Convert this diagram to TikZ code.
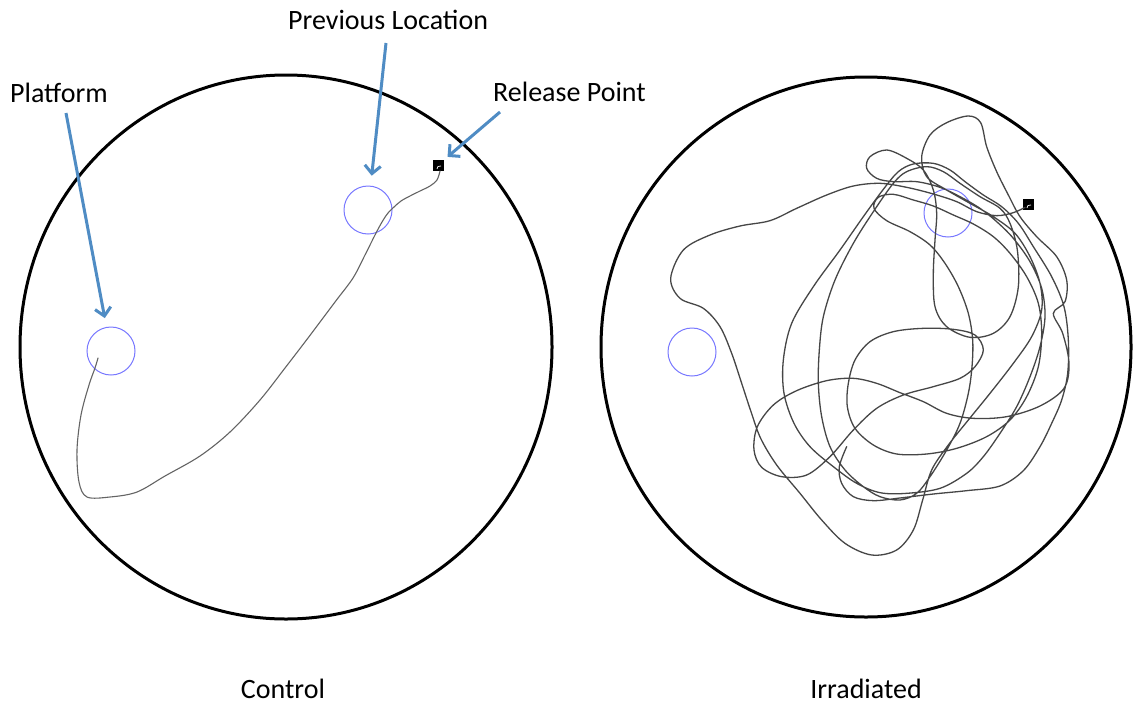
\documentclass[tikz,border=0pt]{standalone}
\usepackage{fontspec}
\setmainfont{Carlito}
\usetikzlibrary{arrows.meta}
\definecolor{callout}{RGB}{79,140,196}
\definecolor{target}{RGB}{120,120,255}
\definecolor{swim}{RGB}{70,70,70}
\definecolor{swimlight}{RGB}{100,100,100}
\begin{document}
\begin{tikzpicture}[x=1pt,y=-1pt,
  poolwall/.style={draw=black,line width=3pt},
  platformring/.style={circle,draw=target,line width=1pt,minimum size=48pt,inner sep=0pt},
  startbox/.style={rectangle,fill=black,minimum size=11pt,inner sep=0pt},
  lbl/.style={inner sep=0pt,font=\fontsize{28}{32}\selectfont},
  calloutarrow/.style={draw=callout,line width=3pt,-{Straight Barb[length=8pt,width=16pt]}},
  track/.style={draw=swim,line width=1.3pt,line join=round,line cap=round}
]
% canvas
\fill[white] (0,0) rectangle (1139,704);

% pools
\draw[poolwall] (286,347) ellipse [x radius=266pt, y radius=272pt];
\draw[poolwall] (866,347) ellipse [x radius=265pt, y radius=270pt];

% platform rings
\node[platformring] (plat1) at (111,351) {};
\node[platformring] (prev1) at (368,210) {};
\node[platformring] (plat2) at (692,352) {};
\node[platformring] (prev2) at (948,213) {};

% release markers
\node[startbox] (rel1) at (438,165) {};
\node[startbox] (rel2) at (1028,204) {};
\draw[white,line width=0.7pt] (437,169) -- (438,166.5) -- (441,166);
\draw[white,line width=0.7pt] (1027,208) -- (1028,205.5) -- (1031,205);

% labels
\node[lbl,anchor=base west] (platlbl) at (10,102) {Platform};
\node[lbl,anchor=base west] (prevlbl) at (288,29) {Previous Location};
\node[lbl,anchor=base west] (rellbl) at (493,101) {Release Point};
\node[lbl,anchor=base] (ctrllbl) at (283,698) {Control};
\node[lbl,anchor=base] (irrlbl) at (866,698) {Irradiated};

% callout arrows
\coordinate (platTail) at (66,113);
\coordinate (prevTail) at (386,43);
\coordinate (relTail) at (500,112);
\draw[calloutarrow,shorten >=9pt] (platTail) -- (plat1);
\draw[calloutarrow,shorten >=10pt] (prevTail) -- (prev1);
\draw[calloutarrow,shorten >=5pt] (relTail) -- (rel1);

% control swim path
\draw[track,draw=swimlight,line width=1.1pt] plot[smooth,tension=0.55] coordinates {
 (440,171) (437,180) (430,186) (420,191) (410,196) (401,201) (394,207)
 (388,213) (382,222) (375,235) (365,255) (353,278) (335,302) (308,338)
 (285,368) (260,400) (230,432) (200,456) (165,476) (137,492) (110,497)
 (87,497) (79,482) (77,450) (81,415) (89,385) (95,368) (98,358)};

% irradiated swim path
\begin{scope}[xshift=640pt,yshift=-100pt,x=0.33333pt,y=-0.33333pt]
\draw[track] plot[smooth,tension=0.55] coordinates {
 (1155,322) (1120,338) (1070,347) (1010,335) (950,305) (880,282) (800,262)
 (720,250) (640,258) (560,285) (470,325) (390,362) (300,378) (210,405)
 (130,450) (92,535) (120,595) (190,625) (240,680) (275,760) (305,850)
 (333,935) (362,1015) (410,1095) (480,1180) (545,1260) (615,1330)
 (695,1365) (770,1350) (820,1290) (848,1200) (875,1110) (925,1035)
 (985,960) (1050,880) (1120,790) (1175,710) (1205,630) (1200,550)
 (1170,470) (1125,400) (1060,350) (990,310) (920,270) (860,230)
 (845,170) (870,105) (920,68) (985,48) (1022,68) (1040,140) (1070,215)
 (1105,285) (1140,350) (1190,410) (1250,470) (1280,540) (1275,605)
 (1240,640)
 (1268,700) (1287,790) (1272,865) (1200,918) (1100,950) (1000,955)
 (920,940) (850,905) (780,878) (710,850) (640,835) (560,842) (470,872)
 (400,915) (352,980) (342,1050) (365,1102) (425,1130) (500,1125)
 (570,1070) (640,990) (710,925) (790,885) (880,860) (960,835) (1005,800)
 (1030,750) (1005,705) (940,688) (850,685) (760,695) (690,725) (645,780)
 (625,850) (622,920) (645,985) (700,1035) (770,1062) (860,1062)
 (950,1045) (1040,1010) (1110,960) (1160,890) (1195,800) (1205,700)
 (1195,610) (1160,530) (1110,460) (1060,410) (1000,372) (940,345)
 (880,318) (820,300) (760,283) (715,292) (702,325) (740,362) (810,395)
 (870,435) (915,490) (955,560) (985,640) (998,720) (996,800) (985,880)
 (960,970) (920,1050) (870,1130) (830,1180) (780,1200) (720,1190)
 (670,1160) (615,1110) (570,1040) (545,950) (535,850) (538,750)
 (550,650) (585,540) (640,430) (700,335) (760,250) (800,215) (860,200)
 (910,215) (960,250) (1020,290) (1080,325)
 (1110,370) (1132,450) (1135,560) (1110,650) (1060,700) (990,712)
 (920,680) (885,620) (880,520) (885,420) (890,340) (880,270) (850,210)
 (800,175) (740,150) (690,170) (680,205) (710,235) (760,245) (830,245)
 (900,262) (960,290) (1020,325) (1070,365) (1120,415) (1170,485)
 (1205,565) (1215,650) (1200,740) (1170,830) (1130,920) (1080,1000)
 (1030,1070) (980,1120) (900,1165) (800,1180) (720,1178) (650,1150)
 (580,1100) (510,1040) (462,970) (432,880) (430,780) (455,670)
 (520,560) (600,450) (670,350) (730,268) (775,215) (820,192) (880,190)
 (930,210) (975,245) (1030,285) (1085,320) (1135,370) (1180,440)
 (1235,530) (1272,620) (1285,720) (1283,820) (1265,900) (1235,970)
 (1200,1040) (1150,1112) (1080,1158) (980,1172) (880,1182) (780,1194)
 (700,1202) (640,1190) (605,1150) (598,1100) (620,1040)};
\end{scope}
\end{tikzpicture}
\end{document}
